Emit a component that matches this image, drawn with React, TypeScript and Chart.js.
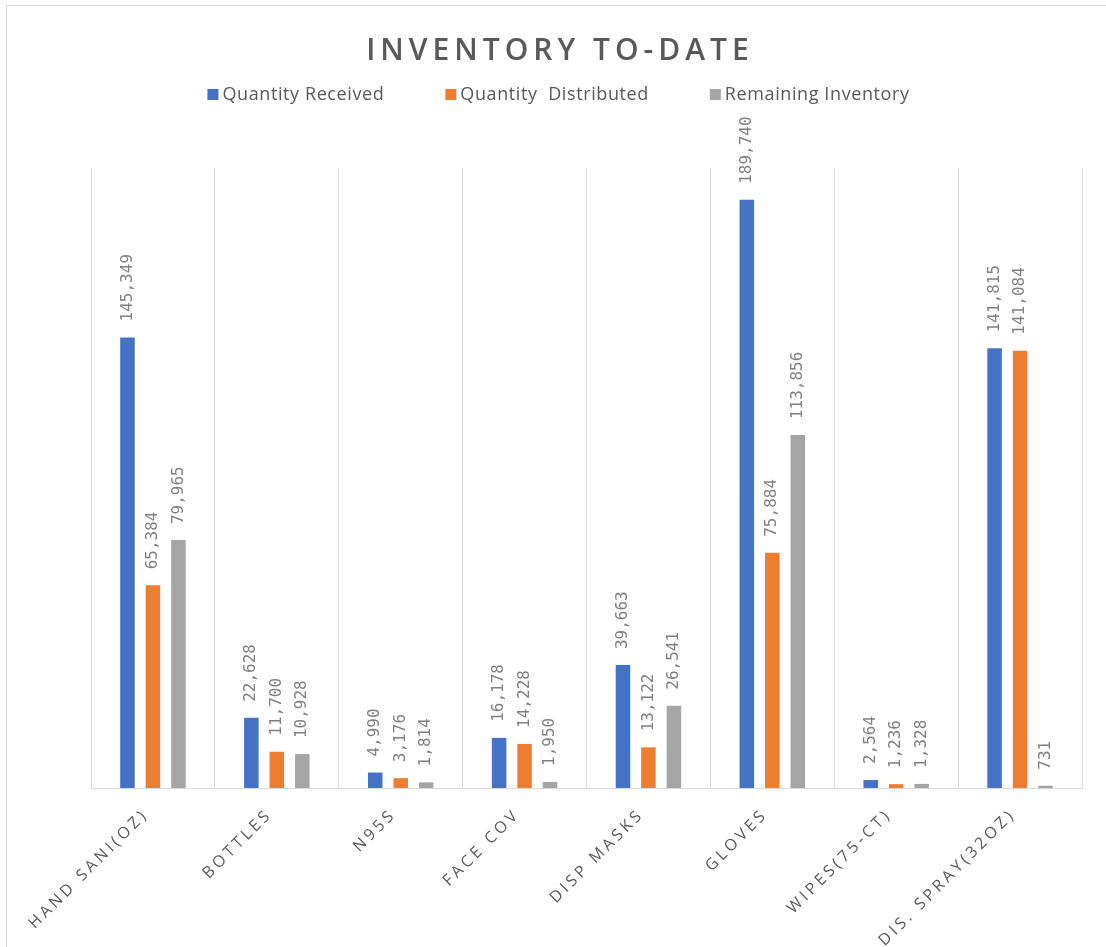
import React, { useEffect, useRef } from 'react';
import { Chart, registerables } from 'chart.js';

Chart.register(...registerables);

const categories = ['HAND SANI(OZ)', 'BOTTLES', 'N95S', 'FACE COV', 'DISP MASKS', 'GLOVES', 'WIPES(75-CT)', 'DIS. SPRAY(32OZ)'];
const quantityReceived = [145349, 22628, 4990, 16178, 39663, 189740, 2564, 141815];
const quantityDistributed = [65384, 11700, 3176, 14228, 13122, 75884, 1236, 141084];
const remainingInventory = [79965, 10928, 1814, 1950, 26541, 113856, 1328, 731];
const seriesNames = ['Quantity Received', 'Quantity  Distributed', 'Remaining Inventory'];
const seriesColors = ['#4472C4', '#ED7D31', '#A5A5A5'];
const chartTitle = 'INVENTORY TO-DATE';

const W = 1106;
const H = 947;

const decorPlugin = {
  id: 'decor',
  beforeDraw(chart: any) {
    const ctx = chart.ctx;
    ctx.save();
    ctx.fillStyle = '#ffffff';
    ctx.fillRect(0, 0, W, H);
    ctx.strokeStyle = '#d9d9d9';
    ctx.lineWidth = 1;
    ctx.strokeRect(6.5, 5.5, W + 40, H + 40);
    ctx.restore();
    ctx.letterSpacing = '3.5px';
  },
  beforeDatasetsDraw(chart: any) {
    chart.ctx.letterSpacing = '0px';
  },
  afterDatasetsDraw(chart: any) {
    const ctx = chart.ctx;
    ctx.save();
    ctx.font = '16px "DejaVu Sans Mono"';
    ctx.fillStyle = '#808080';
    ctx.textAlign = 'left';
    ctx.textBaseline = 'middle';
    chart.data.datasets.forEach((ds: any, di: number) => {
      const meta = chart.getDatasetMeta(di);
      meta.data.forEach((bar: any, i: number) => {
        const v = ds.data[i] as number;
        ctx.save();
        ctx.translate(bar.x, bar.y - 16);
        ctx.rotate(-Math.PI / 2);
        ctx.fillText(v.toLocaleString('en-US'), 0, 0);
        ctx.restore();
      });
    });
    ctx.restore();
  },
  afterDraw(chart: any) {
    const ctx = chart.ctx;
    const cx = (chart.chartArea.left + chart.chartArea.right) / 2 - 28;
    ctx.save();
    // title
    ctx.font = '600 30px "Open Sans"';
    ctx.letterSpacing = '5px';
    ctx.fillStyle = '#595959';
    ctx.textAlign = 'center';
    ctx.textBaseline = 'alphabetic';
    ctx.fillText(chartTitle, cx + 1.5, 60);
    // legend
    ctx.font = '18px "Open Sans"';
    ctx.letterSpacing = '0.6px';
    ctx.textAlign = 'left';
    const box = 11;
    const boxGap = 4;
    const gap = 61;
    const widths = seriesNames.map((n) => box + boxGap + ctx.measureText(n).width);
    const total = widths.reduce((a, b) => a + b, 0) + gap * (seriesNames.length - 1);
    let x = cx - total / 2;
    seriesNames.forEach((n, i) => {
      ctx.fillStyle = seriesColors[i];
      ctx.fillRect(x, 89, box, box);
      ctx.fillStyle = '#595959';
      ctx.fillText(n, x + box + boxGap, 100);
      x += widths[i] + gap;
    });
    ctx.restore();
  },
};

export default function App() {
  const ref = useRef<HTMLCanvasElement>(null);
  useEffect(() => {
    document.body.style.margin = '0';
    const series = [quantityReceived, quantityDistributed, remainingInventory];
    const chart = new Chart(ref.current as HTMLCanvasElement, {
      type: 'bar',
      data: {
        labels: categories,
        datasets: series.map((d, i) => ({
          label: seriesNames[i],
          data: d,
          backgroundColor: seriesColors[i],
          barPercentage: 0.57,
          categoryPercentage: 0.617,
        })),
      },
      options: {
        animation: false,
        responsive: false,
        devicePixelRatio: 1,
        layout: { padding: { top: 168, left: 91, right: 24, bottom: 0 } },
        plugins: {
          legend: { display: false },
          title: { display: false },
          tooltip: { enabled: false },
        },
        scales: {
          x: {
            grid: { color: '#d9d9d9', drawTicks: false, offset: true },
            border: { color: '#d9d9d9' },
            ticks: {
              maxRotation: 45,
              minRotation: 45,
              autoSkip: false,
              color: '#595959',
              font: { family: 'Open Sans', size: 16 },
              padding: 17,
              labelOffset: -7,
            },
            afterFit: (s: any) => {
              s.height = H - 788;
            },
          },
          y: { display: false, min: 0, max: 200000 },
        },
      },
      plugins: [decorPlugin],
    });
    return () => chart.destroy();
  }, []);
  return (
    <div style={{ width: W, height: H }}>
      <canvas ref={ref} width={W} height={H} style={{ display: 'block' }} />
    </div>
  );
}
